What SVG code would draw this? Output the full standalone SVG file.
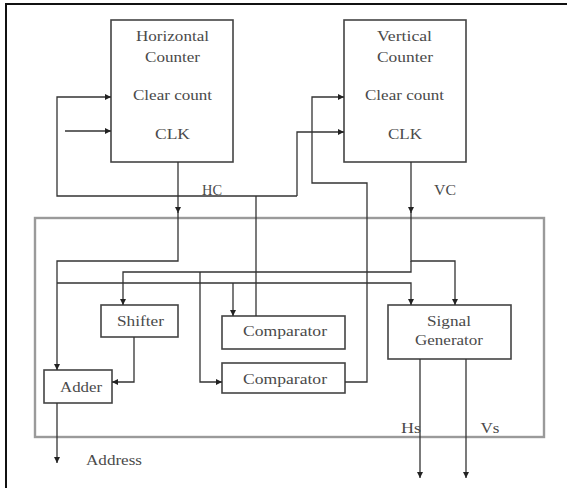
<svg xmlns="http://www.w3.org/2000/svg" width="567" height="488" viewBox="0 0 567 488">
  <style>
    .box { fill: #ffffff; stroke: #444444; stroke-width: 1.6; }
    .frame { fill: none; stroke: #9a9a9a; stroke-width: 2.4; }
    .wire { fill: none; stroke: #333333; stroke-width: 1.3; }
    .arr { marker-end: url(#tip); }
    text { font-family: "Liberation Serif", "Times New Roman", serif; font-size: 15px; fill: #4a4a4a; text-anchor: middle; }
  </style>
  <defs>
    <marker id="tip" viewBox="0 0 10 10" refX="10" refY="5" markerWidth="6" markerHeight="6" markerUnits="userSpaceOnUse" orient="auto">
      <path d="M0,0 L10,5 L0,10 Z" fill="#222222"/>
    </marker>
  </defs>

  <rect width="567" height="488" fill="#ffffff"/>
  <!-- page border -->
  <path d="M6,492 V4 H572" fill="none" stroke="#111111" stroke-width="2"/>

  <!-- enclosing controller block -->
  <rect id="controller" class="frame" x="35" y="218" width="509" height="219"/>

  <g id="horizontal-counter">
    <rect class="box" x="111" y="20" width="122" height="142"/>
    <text x="172.5" y="41" textLength="73" lengthAdjust="spacingAndGlyphs">Horizontal</text>
    <text x="172.5" y="62" textLength="55" lengthAdjust="spacingAndGlyphs">Counter</text>
    <text x="172.5" y="100" textLength="79" lengthAdjust="spacingAndGlyphs">Clear count</text>
    <text x="172.5" y="139" textLength="35" lengthAdjust="spacingAndGlyphs">CLK</text>
  </g>

  <g id="vertical-counter">
    <rect class="box" x="344" y="20" width="122" height="142"/>
    <text x="404.5" y="41" textLength="55" lengthAdjust="spacingAndGlyphs">Vertical</text>
    <text x="405" y="62" textLength="56" lengthAdjust="spacingAndGlyphs">Counter</text>
    <text x="404.5" y="100" textLength="79" lengthAdjust="spacingAndGlyphs">Clear count</text>
    <text x="405" y="139" textLength="34" lengthAdjust="spacingAndGlyphs">CLK</text>
  </g>

  <g id="shifter">
    <rect class="box" x="101" y="305" width="77" height="32"/>
    <text x="140.5" y="326" textLength="47" lengthAdjust="spacingAndGlyphs">Shifter</text>
  </g>

  <g id="adder">
    <rect class="box" x="44" y="370" width="68" height="33"/>
    <text x="81" y="392" textLength="42" lengthAdjust="spacingAndGlyphs">Adder</text>
  </g>

  <g id="comparator-1">
    <rect class="box" x="222" y="316" width="123" height="33"/>
    <text x="285" y="336" textLength="84" lengthAdjust="spacingAndGlyphs">Comparator</text>
  </g>

  <g id="comparator-2">
    <rect class="box" x="222" y="363" width="123" height="30"/>
    <text x="285" y="384" textLength="84" lengthAdjust="spacingAndGlyphs">Comparator</text>
  </g>

  <g id="signal-generator">
    <rect class="box" x="388" y="305" width="123" height="54"/>
    <text x="449" y="326" textLength="44" lengthAdjust="spacingAndGlyphs">Signal</text>
    <text x="449" y="345" textLength="68" lengthAdjust="spacingAndGlyphs">Generator</text>
  </g>

  <g id="connectors">
    <!-- external clock into horizontal counter -->
    <path class="wire arr" d="M65,131 H111"/>
    <!-- comparator 1 output: clears horizontal counter, clocks vertical counter -->
    <path class="wire" d="M256,316 V196"/>
    <path class="wire arr" d="M297,196 H57 V97 H111"/>
    <path class="wire arr" d="M297,196 V132 H344"/>
    <!-- comparator 2 output: clears vertical counter -->
    <path class="wire arr" d="M345,382 H367 V183 H312 V97 H344"/>
    <!-- HC bus -->
    <path class="wire arr" d="M178,162 V213"/>
    <path class="wire arr" d="M178,212 V261 H57 V370"/>
    <path class="wire arr" d="M57,283 H411 V305"/>
    <path class="wire arr" d="M233,283 V316"/>
    <!-- VC bus -->
    <path class="wire arr" d="M411,162 V213"/>
    <path class="wire arr" d="M411,212 V261 H455 V305"/>
    <path class="wire arr" d="M411,261 V272 H123 V305"/>
    <path class="wire arr" d="M200,272 V382 H222"/>
    <!-- shifter to adder -->
    <path class="wire arr" d="M134,337 V382 H112"/>
    <!-- outputs -->
    <path class="wire arr" d="M57,403 V463"/>
    <path class="wire arr" d="M420,359 V478"/>
    <path class="wire arr" d="M466,359 V478"/>
  </g>

  <g id="labels">
    <text x="212" y="195" textLength="20" lengthAdjust="spacingAndGlyphs">HC</text>
    <text x="445" y="195" textLength="22" lengthAdjust="spacingAndGlyphs">VC</text>
    <text x="114" y="465" textLength="56" lengthAdjust="spacingAndGlyphs">Address</text>
    <text x="411" y="433" textLength="20" lengthAdjust="spacingAndGlyphs">Hs</text>
    <text x="490" y="433" textLength="19" lengthAdjust="spacingAndGlyphs">Vs</text>
  </g>
</svg>
